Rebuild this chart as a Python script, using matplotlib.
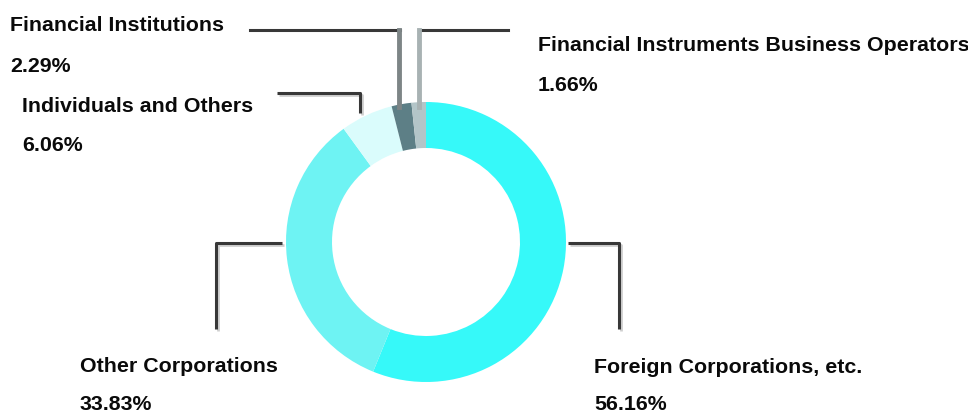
import matplotlib.pyplot as plt

# shareholder composition
labels = ["Foreign Corporations, etc.", "Other Corporations", "Individuals and Others",
          "Financial Institutions", "Financial Instruments Business Operators"]
shares = [56.16, 33.83, 6.06, 2.29, 1.66]
colors = ["#36f9f9", "#6ef3f3", "#dafcfc", "#5d7f86", "#b3c5c8"]

W, H = 968, 414
fig = plt.figure(figsize=(W / 100, H / 100), dpi=100)
ax = fig.add_axes([0, 0, 1, 1])

# y axis runs downwards (pixel-like), so start at -90 and go "counterclock"
# in data space, which reads clockwise from 12 o'clock on screen
cx, cy, r_out, r_in = 426, 243, 140, 94
ax.pie(shares, colors=colors, startangle=-90, counterclock=True,
       center=(cx, cy), radius=r_out, frame=True,
       wedgeprops=dict(width=r_out - r_in, linewidth=0))
ax.set_xlim(0, W)
ax.set_ylim(H, 0)
ax.set_aspect("equal")
ax.axis("off")

dark = "#383838"
shadow = "#cfcfcf"


def leader(xs, ys):
    ax.plot([x + 2 for x in xs], [y + 2 for y in ys], color=shadow, lw=2, solid_capstyle="butt", zorder=3)
    ax.plot(xs, ys, color=dark, lw=2.2, solid_capstyle="butt", zorder=4)


# top leaders (horizontal dark, vertical grey)
ax.plot([250, 400], [31, 31], color=dark, lw=2.2, zorder=4)
ax.plot([399, 399], [31, 108], color="#7d8586", lw=3.5, zorder=4)
ax.plot([419, 508], [31, 31], color=dark, lw=2.2, zorder=4)
ax.plot([419, 419], [31, 108], color="#a8b2b3", lw=3.5, zorder=4)

leader([277, 360, 360], [94, 94, 114])
leader([282, 216, 216], [244, 244, 330])
leader([568, 619, 619], [244, 244, 330])

fs = 15.4
font = dict(fontsize=fs, fontweight="bold", family="Liberation Sans", color="#0a0a0a", va="baseline")
ax.text(10, 31, labels[3], **font)
ax.text(10, 72, f"{shares[3]:.2f}%", **font)
ax.text(22, 112, labels[2], **font)
ax.text(22, 151, f"{shares[2]:.2f}%", **font)
ax.text(538, 51, labels[4], **font)
ax.text(538, 91, f"{shares[4]:.2f}%", **font)
ax.text(80, 372, labels[1], **font)
ax.text(80, 410, f"{shares[1]:.2f}%", **font)
ax.text(594, 373, labels[0], **font)
ax.text(594, 410, f"{shares[0]:.2f}%", **font)

fig.savefig("out.png", dpi=100)
